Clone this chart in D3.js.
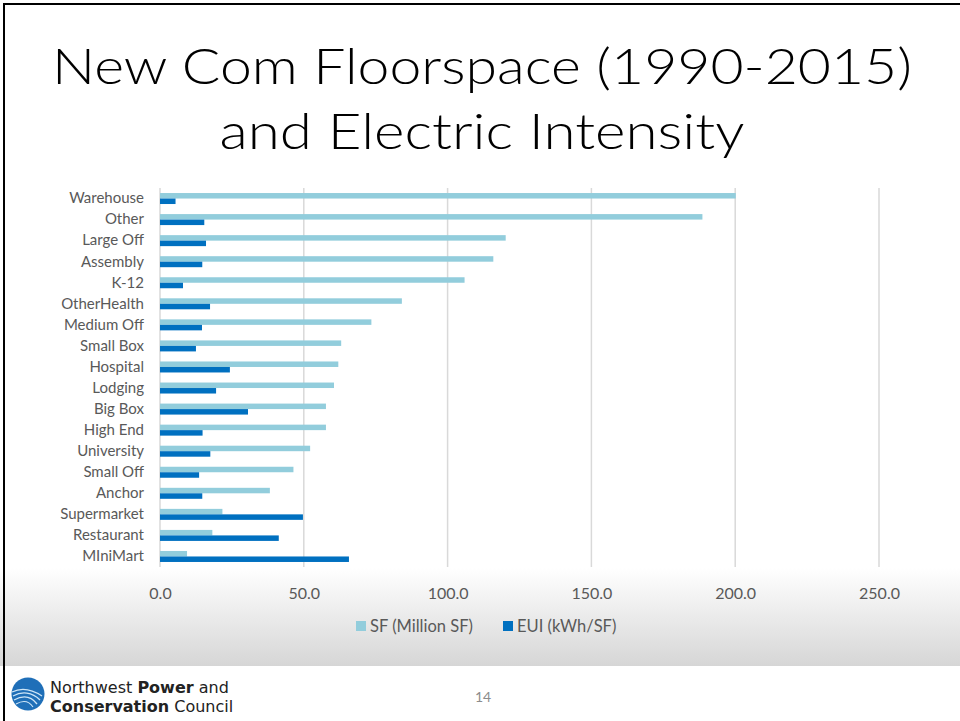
<!DOCTYPE html>
<html>
<head>
<meta charset="utf-8">
<script src="https://cdn.jsdelivr.net/npm/d3@7"></script>
<style>
  html, body { margin: 0; padding: 0; background: #fff; }
  svg { display: block; }
</style>
</head>
<body>
<svg id="slide" width="960" height="721"></svg>
<script>
// Building types, top to bottom
const categories = ["Warehouse", "Other", "Large Off", "Assembly", "K-12", "OtherHealth",
  "Medium Off", "Small Box", "Hospital", "Lodging", "Big Box", "High End", "University",
  "Small Off", "Anchor", "Supermarket", "Restaurant", "MIniMart"];

// New floorspace 1990-2015, million square feet
const sfValues = [200.2, 188.6, 120.2, 115.9, 105.9, 84.1, 73.5, 63.0, 62.0, 60.5,
  57.7, 57.7, 52.2, 46.4, 38.2, 21.7, 18.2, 9.4];

// Electric energy use intensity, kWh per square foot
const euiValues = [5.4, 15.4, 16.0, 14.7, 8.0, 17.4, 14.6, 12.5, 24.3, 19.5,
  30.6, 14.8, 17.5, 13.6, 14.7, 49.7, 41.3, 65.7];

const seriesNames = ["SF (Million SF)", "EUI (kWh/SF)"];
const seriesColors = ["#92CDDC", "#0070C0"];
const xTicks = [0, 50, 100, 150, 200, 250];

const svg = d3.select("#slide");
const W = 960, H = 721;

// Slide background: gray fade under the chart, white footer
const defs = svg.append("defs");
const grad = defs.append("linearGradient").attr("id", "fade")
  .attr("x1", 0).attr("y1", 0).attr("x2", 0).attr("y2", 1);
grad.append("stop").attr("offset", "0%").attr("stop-color", "#ffffff");
grad.append("stop").attr("offset", "100%").attr("stop-color", "#d6d6d6");

svg.append("rect").attr("x", 0).attr("y", 0).attr("width", W).attr("height", H).attr("fill", "#fff");
svg.append("rect").attr("x", 0).attr("y", 568).attr("width", W).attr("height", 98).attr("fill", "url(#fade)");

// Slide frame (top and left edges)
svg.append("line").attr("x1", 3).attr("x2", W).attr("y1", 4).attr("y2", 4)
  .attr("stroke", "#000").attr("stroke-width", 2);
svg.append("line").attr("x1", 4).attr("x2", 4).attr("y1", 3).attr("y2", H)
  .attr("stroke", "#000").attr("stroke-width", 2);

// Title
const titleFont = "Lato, sans-serif";
svg.append("text").attr("x", 482).attr("y", 84)
  .attr("text-anchor", "middle")
  .attr("font-family", titleFont).attr("font-weight", 300).attr("font-size", 50)
  .attr("fill", "#000")
  .attr("textLength", 860).attr("lengthAdjust", "spacingAndGlyphs")
  .text("New Com Floorspace (1990-2015)");
svg.append("text").attr("x", 482).attr("y", 149)
  .attr("text-anchor", "middle")
  .attr("font-family", titleFont).attr("font-weight", 300).attr("font-size", 50)
  .attr("fill", "#000")
  .attr("textLength", 525).attr("lengthAdjust", "spacingAndGlyphs")
  .text("and Electric Intensity");

// Chart
const plot = { left: 160, right: 879, top: 188, bottom: 567 };
const x = d3.scaleLinear().domain([0, 250]).range([plot.left, plot.right]);
const y = d3.scaleBand().domain(categories).range([plot.top, plot.bottom])
  .paddingInner(0.478).paddingOuter(0.239);
const ySub = d3.scaleBand().domain([0, 1]).range([0, y.bandwidth()]);

const labelFont = "Lato, 'Open Sans', sans-serif";
const g = svg.append("g");

// Vertical gridlines
g.append("g").selectAll("line").data(xTicks).join("line")
  .attr("x1", d => x(d)).attr("x2", d => x(d))
  .attr("y1", plot.top).attr("y2", plot.bottom)
  .attr("stroke", "#d9d9d9").attr("stroke-width", 1.5);

// Bars
const rows = categories.map((c, i) => ({ cat: c, vals: [sfValues[i], euiValues[i]] }));
const groups = g.append("g").selectAll("g").data(rows).join("g")
  .attr("transform", d => `translate(0,${y(d.cat)})`);
groups.selectAll("rect").data(d => d.vals.map((v, k) => ({ v, k }))).join("rect")
  .attr("x", x(0))
  .attr("y", d => ySub(d.k))
  .attr("width", d => x(d.v) - x(0))
  .attr("height", ySub.bandwidth())
  .attr("fill", d => seriesColors[d.k]);

// Category axis
const yAxis = d3.axisLeft(y).tickSize(0).tickPadding(0);
g.append("g").attr("transform", `translate(${plot.left - 16},0)`).call(yAxis)
  .call(a => a.select(".domain").remove())
  .selectAll("text")
  .attr("font-family", labelFont).attr("font-size", 15).attr("fill", "#595959");

// Value axis
const xAxis = d3.axisBottom(x).tickValues(xTicks).tickFormat(d3.format(".1f")).tickSize(0).tickPadding(0);
g.append("g").attr("transform", `translate(0,${plot.bottom + 21})`).call(xAxis)
  .call(a => a.select(".domain").remove())
  .selectAll("text")
  .attr("font-family", labelFont).attr("font-size", 16).attr("fill", "#595959");

// Legend
const legendItems = [
  { name: seriesNames[0], color: seriesColors[0], x: 356 },
  { name: seriesNames[1], color: seriesColors[1], x: 503 }
];
const lg = svg.append("g").selectAll("g").data(legendItems).join("g")
  .attr("transform", d => `translate(${d.x},626)`);
lg.append("rect").attr("x", 0).attr("y", -5).attr("width", 10).attr("height", 10)
  .attr("fill", d => d.color);
lg.append("text").attr("x", 14).attr("y", 5.5)
  .attr("font-family", labelFont).attr("font-size", 16.5).attr("fill", "#595959")
  .text(d => d.name);

// Footer: council logo and page number
const logo = svg.append("g").attr("transform", "translate(28,694)");
logo.append("circle").attr("r", 16.5).attr("fill", "#1f6fb8");
logo.append("path").attr("d", "M-16,-2 C-8,-6 2,-6 14,2").attr("fill", "none").attr("stroke", "#cfe6f7").attr("stroke-width", 1.3);
logo.append("path").attr("d", "M-15,2 C-6,-3 4,-2 12,6").attr("fill", "none").attr("stroke", "#cfe6f7").attr("stroke-width", 1.3);
logo.append("path").attr("d", "M-14,6 C-5,1 3,2 9,10").attr("fill", "none").attr("stroke", "#cfe6f7").attr("stroke-width", 1.3);
logo.append("path").attr("d", "M-12,10 C-5,6 1,7 5,13").attr("fill", "none").attr("stroke", "#cfe6f7").attr("stroke-width", 1.1);

const logoFont = "'DejaVu Sans', sans-serif";
const t1 = svg.append("text").attr("x", 50).attr("y", 693)
  .attr("font-family", logoFont).attr("font-size", 16).attr("fill", "#222");
t1.append("tspan").text("Northwest ");
t1.append("tspan").attr("font-weight", "bold").text("Power");
t1.append("tspan").text(" and");
const t2 = svg.append("text").attr("x", 50).attr("y", 712)
  .attr("font-family", logoFont).attr("font-size", 16).attr("fill", "#222");
t2.append("tspan").attr("font-weight", "bold").text("Conservation");
t2.append("tspan").text(" Council");

svg.append("text").attr("x", 483).attr("y", 702).attr("text-anchor", "middle")
  .attr("font-family", labelFont).attr("font-size", 14).attr("fill", "#8c8c8c")
  .text("14");
</script>
</body>
</html>
